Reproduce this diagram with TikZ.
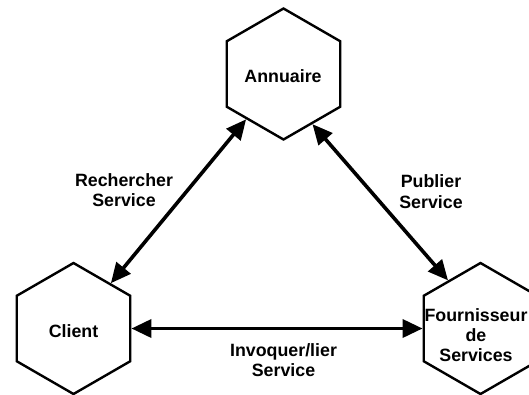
\documentclass[tikz,border=0pt]{standalone}
\usepackage{fontspec}
\setmainfont{Liberation Sans}
\usetikzlibrary{shapes.geometric,arrows.meta}

\tikzset{
  hexa/.style={draw, line width=2.4pt, regular polygon, regular polygon sides=6,
    shape border rotate=30, minimum size=131pt, inner sep=0pt},
  lbl/.style={font=\bfseries\fontsize{17.8}{20.5}\selectfont, align=center, inner sep=0pt},
  dbl/.style={line width=3.6pt,
    {Triangle[length=20pt,width=18pt]}-{Triangle[length=20pt,width=18pt]}}
}

\begin{document}
\begin{tikzpicture}[x=1pt,y=-1pt]
  \useasboundingbox (0,0) rectangle (529,394);

  % the three actors
  \node[hexa] (ann)  at (283.5,74)  {};
  \node[hexa] (cli)  at (73.5,328.5) {};
  \node[hexa] (four) at (480.5,328.5) {};

  \node[lbl] (annT)  at (283,76.4)  {Annuaire};
  \node[lbl] (cliT)  at (73.5,331)  {Client};
  \node[lbl, font=\bfseries\fontsize{17.8}{20}\selectfont] (fourT) at (476,335.5)
    {Fournisseur\\de\\Services};

  % interactions
  \draw[dbl] (ann) -- (cli);
  \draw[dbl] (ann.-60) -- (four.124);
  \draw[dbl] (cli) -- (four);

  \node[lbl] (rech) at (124,190)   {Rechercher\\Service};
  \node[lbl] (pub)  at (431,191.4) {Publier\\Service};
  \node[lbl] (inv)  at (283.5,360.3) {Invoquer/lier\\Service};
\end{tikzpicture}
\end{document}
